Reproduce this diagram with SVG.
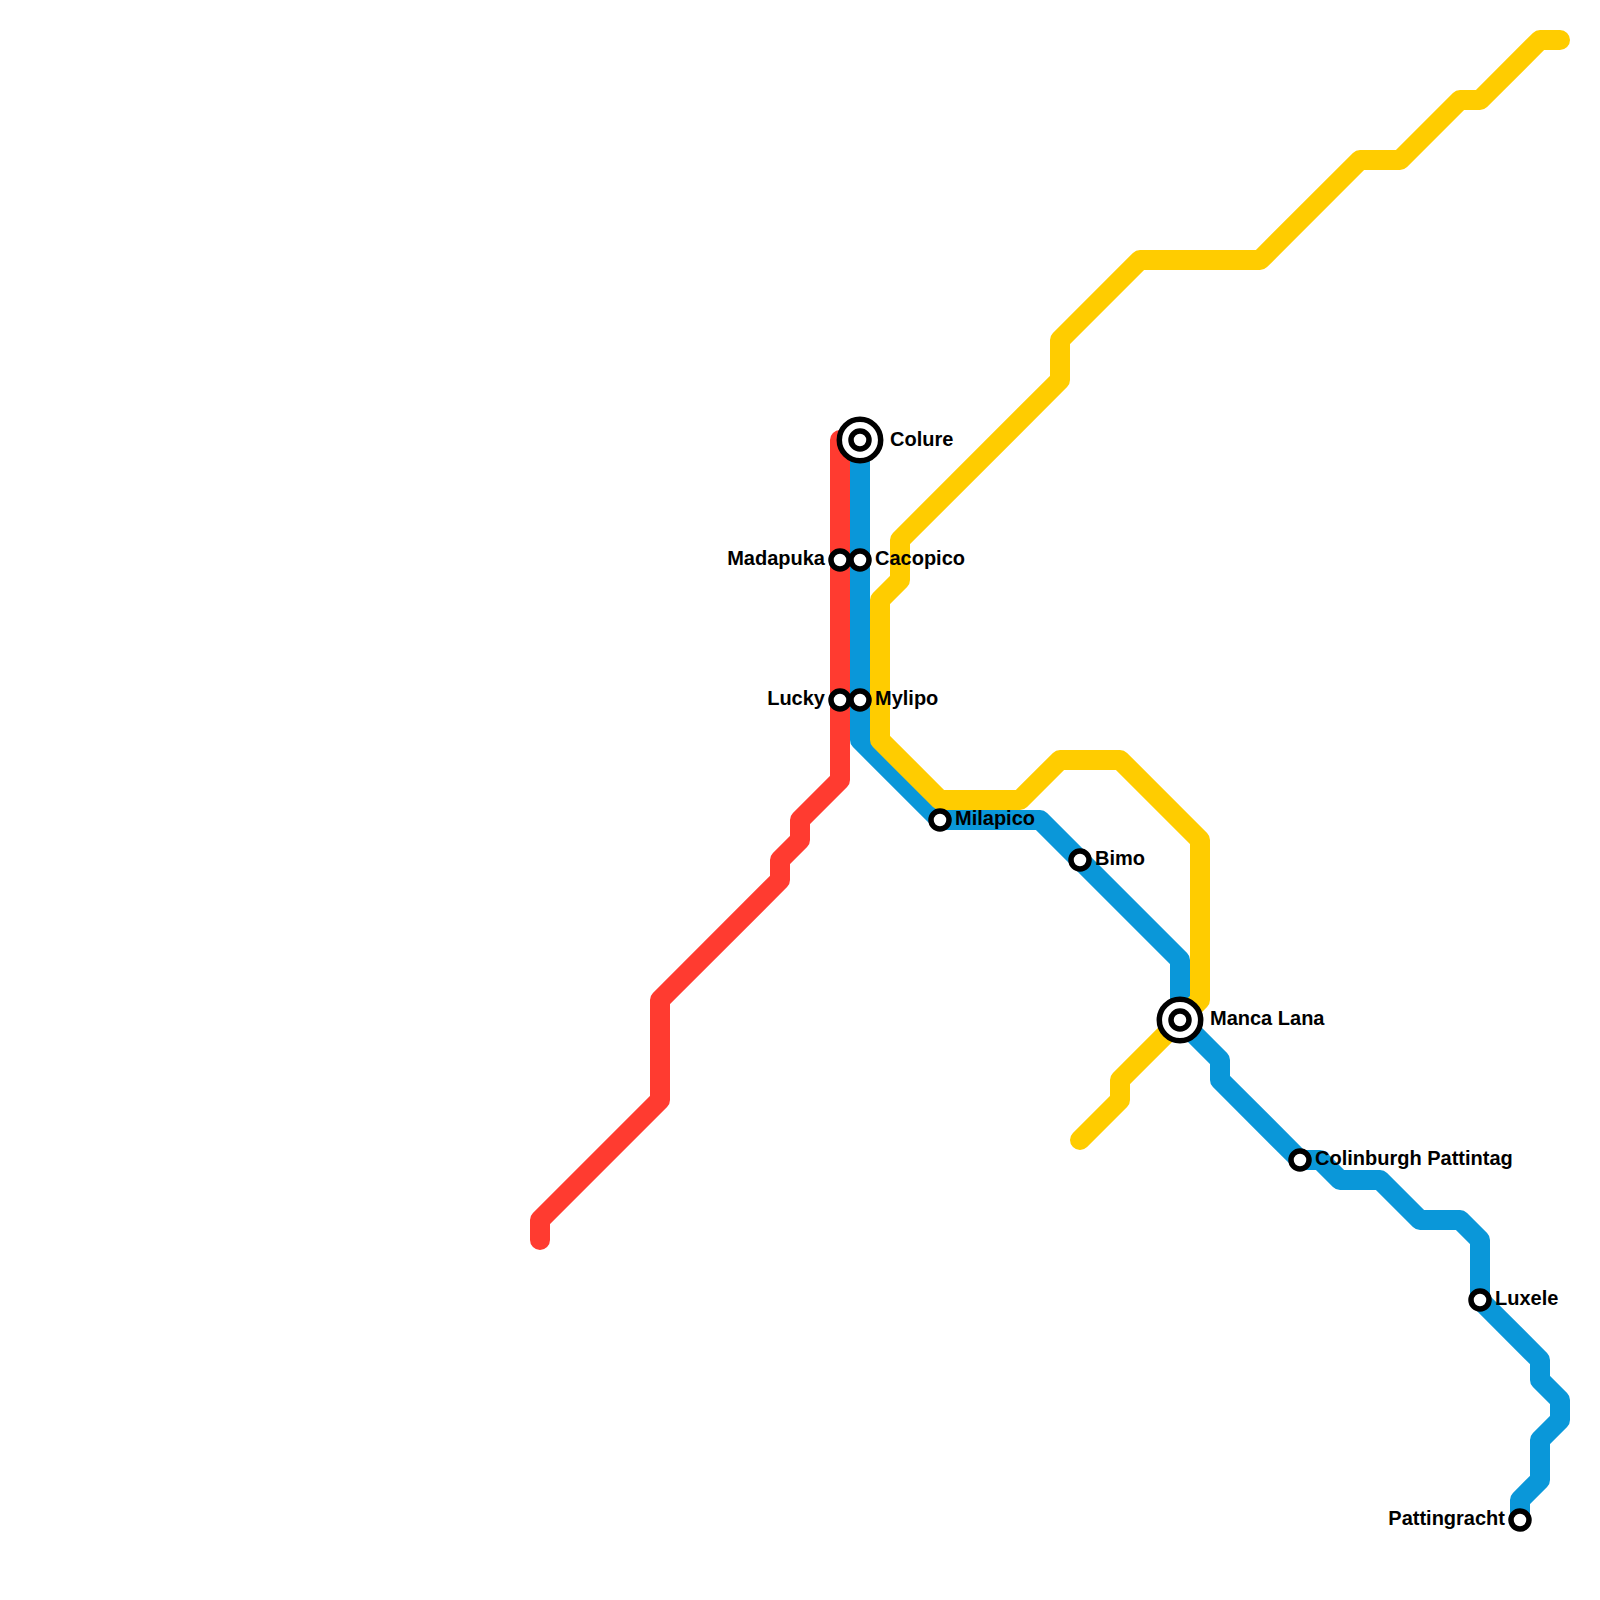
<svg xmlns="http://www.w3.org/2000/svg" width="1600" height="1600" viewBox="0 0 1600 1600">
<style>
.l{fill:none;stroke-width:20;stroke-linecap:round;stroke-linejoin:round}
.s{fill:#fff;stroke:#000;stroke-width:5.5}
text{font-family:"Liberation Sans",Arial,sans-serif;font-size:20px;font-weight:bold;fill:#000}
.e{text-anchor:end}
</style>
<rect width="1600" height="1600" fill="#fff"/>
<g id="connectors">
<path id="line-red" class="l" stroke="#ff3b30" d="M840 440V780L800 820V840L780 860V880L660 1000V1100L540 1220V1240"/>
<path id="line-blue" class="l" stroke="#0a97d9" d="M860 440V740L940 820H1040L1180 960V1020L1220 1060V1080L1300 1160H1320L1340 1180H1380L1420 1220H1460L1480 1240V1300L1540 1360V1380L1560 1400V1420L1540 1440V1480L1520 1500V1520"/>
<path id="line-yellow" class="l" stroke="#ffcc00" d="M1560 40H1540L1480 100H1460L1400 160H1360L1260 260H1140L1060 340V380L900 540V580L880 600V740L940 800H1020L1060 760H1120L1200 840V1000L1120 1080V1100L1080 1140"/>
</g>
<g id="colure"><circle class="s" cx="860" cy="440" r="20.7"/><circle class="s" cx="860" cy="440" r="9"/><text x="890" y="446">Colure</text></g>
<g id="madapuka"><circle class="s" cx="840" cy="560" r="9"/><text class="e" x="825" y="565">Madapuka</text></g>
<g id="cacopico"><circle class="s" cx="860" cy="560" r="9"/><text x="875" y="565">Cacopico</text></g>
<g id="lucky"><circle class="s" cx="840" cy="700" r="9"/><text class="e" x="825" y="705">Lucky</text></g>
<g id="mylipo"><circle class="s" cx="860" cy="700" r="9"/><text x="875" y="705">Mylipo</text></g>
<g id="milapico"><circle class="s" cx="940" cy="820" r="9"/><text x="955" y="825">Milapico</text></g>
<g id="bimo"><circle class="s" cx="1080" cy="860" r="9"/><text x="1095" y="865">Bimo</text></g>
<g id="manca-lana"><circle class="s" cx="1180" cy="1020" r="20.7"/><circle class="s" cx="1180" cy="1020" r="9"/><text x="1210" y="1025">Manca Lana</text></g>
<g id="colinburgh-pattintag"><circle class="s" cx="1300" cy="1160" r="9"/><text x="1315" y="1165">Colinburgh Pattintag</text></g>
<g id="luxele"><circle class="s" cx="1480" cy="1300" r="9"/><text x="1495" y="1305">Luxele</text></g>
<g id="pattingracht"><circle class="s" cx="1520" cy="1520" r="9"/><text class="e" x="1505" y="1525">Pattingracht</text></g>
</svg>
